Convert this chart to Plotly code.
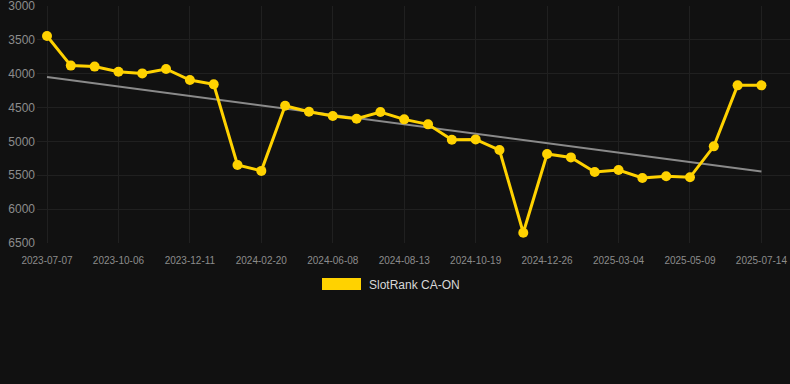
import numpy as np
import plotly.graph_objects as go

dates = [
    "2023-07-07", "2023-08-07", "2023-09-06", "2023-10-06", "2023-10-28", "2023-11-19",
    "2023-12-11", "2024-01-04", "2024-01-28", "2024-02-20", "2024-03-27", "2024-05-02",
    "2024-06-08", "2024-06-30", "2024-07-22", "2024-08-13", "2024-09-04", "2024-09-26",
    "2024-10-19", "2024-11-10", "2024-12-03", "2024-12-26", "2025-01-17", "2025-02-10",
    "2025-03-04", "2025-03-26", "2025-04-17", "2025-05-09", "2025-05-31", "2025-06-22",
    "2025-07-14",
]
ranks = [
    3443, 3880, 3895, 3970, 3995, 3930, 4093, 4157, 5348, 5435, 4472, 4561,
    4625, 4664, 4565, 4674, 4748, 4974, 4970, 5127, 6348, 5186, 5236, 5452,
    5422, 5540, 5515, 5530, 5073, 4172, 4172,
]
tick_labels = dates[::3]
y_ticks = [3000, 3500, 4000, 4500, 5000, 5500, 6000, 6500]
series_name = "SlotRank CA-ON"

idx = np.arange(len(ranks))
slope, intercept = np.polyfit(idx, ranks, 1)
trend = [intercept + slope * i for i in idx]

YELLOW = "#FFD200"
BG = "#111111"
GRID = "#202020"

fig = go.Figure()
fig.add_trace(go.Scatter(
    x=dates, y=trend, mode="lines",
    line=dict(color="#8a8a8a", width=2), showlegend=False, hoverinfo="skip",
))
fig.add_trace(go.Scatter(
    x=dates, y=ranks, mode="lines+markers", name=series_name,
    line=dict(color=YELLOW, width=3),
    marker=dict(color=YELLOW, size=10),
    showlegend=False,
))

W, H = 790, 384
L, R, T, B = 37, 0, 6, 141
pw, ph = W - L - R, H - T - B

def px_x(px):
    return (px - L) / pw

def px_y(py):
    return (H - B - py) / ph

fig.add_shape(type="rect", xref="paper", yref="paper",
              x0=px_x(322), x1=px_x(361), y0=px_y(290), y1=px_y(278),
              fillcolor=YELLOW, line=dict(width=0))
fig.add_annotation(xref="paper", yref="paper", x=px_x(367), y=px_y(284.5),
                   xanchor="left", yanchor="middle", showarrow=False,
                   text=series_name, font=dict(size=12, color="#d8d8d8"))

fig.update_layout(
    width=W, height=H,
    margin=dict(l=L, r=R, t=T, b=B),
    paper_bgcolor=BG, plot_bgcolor=BG,
    font=dict(family="Liberation Sans, Arial, sans-serif", color="#8c8c8c"),
    showlegend=False,
)
fig.update_xaxes(
    type="category", categoryorder="array", categoryarray=dates,
    range=[-0.42, 31.2],
    tickmode="array", tickvals=tick_labels, ticktext=tick_labels,
    tickfont=dict(size=10, color="#8c8c8c"),
    showgrid=True, gridcolor=GRID, gridwidth=1,
    showline=False, zeroline=False, ticks="", ticklabelstandoff=10,
    ticklabeloverflow="allow",
)
fig.update_yaxes(
    range=[6500, 3000], tickmode="array", tickvals=y_ticks,
    tickfont=dict(size=12, color="#8c8c8c"),
    showgrid=True, gridcolor=GRID, gridwidth=1,
    zeroline=False, showline=False, ticks="", ticklabelstandoff=1,
    ticklabeloverflow="allow",
)

fig.write_html(
    "out.html",
    config={"displayModeBar": False},
    post_script="document.body.style.margin='0';document.body.style.background='#111111';",
)
